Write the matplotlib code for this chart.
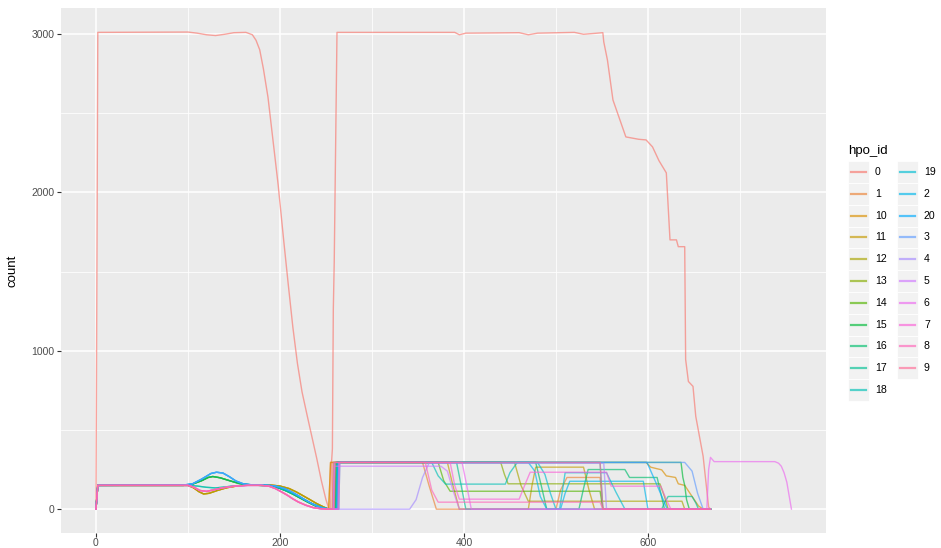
import numpy as np
import matplotlib
matplotlib.use("Agg")
import matplotlib.pyplot as plt
from matplotlib.patches import Rectangle
from matplotlib.lines import Line2D

plt.rcParams['font.family'] = ['Liberation Sans', 'DejaVu Sans']

# ---------------------------------------------------------------- data
hpo_ids = ["0", "1", "10", "11", "12", "13", "14", "15", "16", "17", "18",
           "19", "2", "20", "3", "4", "5", "6", "7", "8", "9"]

# series "0"
trace_0 = [(0, 0), (2, 3010), (100, 3012), (110, 3005), (120, 2995), (130, 2990),
           (140, 2998), (150, 3008), (163, 3010), (170, 2995), (174, 2960),
           (178, 2900), (182, 2780), (187, 2600), (192, 2350), (198, 2050),
           (204, 1700), (209, 1420), (214, 1150), (219, 920), (224, 740),
           (230, 580), (235, 450), (240, 320), (245, 180), (250, 60), (253, 5),
           (255, 0), (256, 290), (257, 380), (258, 1260), (259, 1560),
           (262, 3010), (390, 3010), (395, 2995), (402, 3005), (460, 3008),
           (470, 2995), (480, 3005), (520, 3010), (530, 2998), (545, 3005),
           (551, 3008), (552, 2950), (556, 2835), (562, 2583), (570, 2450),
           (576, 2350), (590, 2335), (598, 2331), (605, 2287), (612, 2200),
           (620, 2123), (624, 1700), (631, 1700), (633, 1657), (640, 1657),
           (641, 945), (644, 806), (649, 775), (652, 586), (660, 334),
           (666, 13), (668, 0)]

# first-phase profiles shared by groups of ids
early_blue = [(0, 0), (2, 150), (95, 152), (105, 160), (115, 190), (125, 225),
              (131, 233), (138, 228), (145, 205), (152, 178), (160, 160),
              (170, 153), (185, 152), (195, 146), (205, 130), (213, 108),
              (220, 85), (226, 63), (233, 40), (240, 20), (248, 6), (255, 0)]
early_green = [(0, 0), (2, 150), (95, 150), (105, 158), (115, 180), (122, 200),
               (127, 206), (135, 198), (145, 180), (155, 163), (165, 155),
               (178, 150), (188, 147), (198, 135), (207, 115), (215, 92),
               (222, 70), (230, 45), (238, 22), (246, 7), (254, 0)]
early_teal = [(0, 0), (2, 150), (100, 150), (110, 146), (120, 138), (130, 134),
              (140, 140), (150, 147), (160, 151), (182, 151), (192, 145),
              (202, 128), (210, 108), (218, 86), (226, 62), (235, 35),
              (245, 12), (254, 0)]
early_orange = [(0, 0), (2, 150), (100, 150), (106, 135), (112, 110), (117, 96),
                (123, 100), (132, 118), (142, 135), (155, 148), (170, 153),
                (190, 152), (200, 146), (210, 130), (218, 108), (225, 85),
                (232, 62), (240, 35), (247, 15), (253, 0)]
early_pink = [(0, 0), (2, 150), (100, 150), (106, 140), (113, 118), (120, 112),
              (128, 122), (138, 135), (150, 145), (165, 150), (180, 150),
              (188, 145), (195, 130), (202, 108), (208, 88), (214, 65),
              (220, 45), (228, 25), (236, 10), (245, 2), (252, 0)]

# second-phase traces per id
late_1 = [(255, 295), (355, 295), (362, 150), (370, 0), (500, 0), (505, 120),
          (512, 200), (548, 200), (551, 0), (668, 0)]
late_10 = [(255, 295), (598, 295), (603, 265), (610, 255), (615, 248),
           (620, 210), (630, 200), (633, 160), (640, 150), (648, 80),
           (655, 20), (660, 0), (668, 0)]
late_11 = [(257, 0), (258, 295), (382, 295), (388, 150), (395, 0), (470, 0),
           (474, 150), (478, 265), (530, 265), (536, 120), (542, 0), (668, 0)]
late_12 = [(259, 0), (260, 295), (455, 295), (462, 150), (470, 50), (637, 50),
           (640, 0), (668, 0)]
late_13 = [(260, 0), (261, 295), (440, 295), (444, 220), (448, 160), (613, 160),
           (618, 80), (622, 0), (668, 0)]
late_14 = [(262, 0), (263, 295), (372, 295), (378, 180), (385, 113), (548, 113),
           (551, 0), (668, 0)]
late_15 = [(260, 0), (261, 295), (636, 295), (638, 200), (640, 150), (642, 60),
           (645, 0), (668, 0)]
late_16 = [(261, 0), (262, 295), (478, 295), (484, 150), (490, 0), (525, 0),
           (530, 130), (535, 250), (575, 250), (580, 200), (610, 200),
           (614, 100), (618, 0), (668, 0)]
late_17 = [(263, 0), (264, 295), (392, 295), (397, 150), (402, 0), (615, 0),
           (618, 40), (622, 80), (648, 80), (652, 40), (655, 0), (668, 0)]
late_18 = [(261, 0), (262, 295), (365, 295), (372, 210), (380, 158), (445, 158),
           (450, 230), (458, 295), (548, 295), (551, 0), (668, 0)]
late_19 = [(264, 0), (265, 295), (480, 295), (488, 220), (494, 100), (500, 0),
           (504, 0), (510, 230), (555, 230), (565, 110), (575, 0), (668, 0)]
late_2 = [(262, 0), (263, 295), (470, 295), (477, 240), (483, 80), (490, 0),
          (505, 0), (510, 100), (515, 176), (595, 176), (600, 0), (668, 0)]
late_20 = [(262, 0), (263, 295), (599, 295), (610, 150), (621, 0), (668, 0)]
late_3 = [(258, 0), (259, 295), (640, 295), (648, 240), (654, 100), (660, 0),
          (668, 0)]
late_4 = [(341, 0), (348, 60), (355, 200), (362, 290), (552, 290), (555, 0),
          (668, 0)]
late_5 = [(258, 0), (259, 271), (375, 271), (382, 240), (388, 120), (395, 0),
          (668, 0)]
late_6 = [(263, 0), (264, 295), (398, 295), (403, 150), (408, 0), (664, 0),
          (666, 250), (668, 327), (672, 300), (738, 300), (742, 290),
          (745, 271), (748, 230), (751, 170), (756, 0)]
late_7 = [(264, 0), (265, 295), (385, 295), (390, 150), (395, 63), (460, 63),
          (466, 150), (472, 233), (555, 233), (560, 145), (614, 145),
          (620, 60), (625, 0), (668, 0)]
late_8 = [(259, 0), (260, 295), (358, 295), (365, 120), (372, 44), (548, 44),
          (551, 0), (668, 0)]
late_9 = [(257, 0), (258, 295), (548, 295), (551, 0), (668, 0)]

traces = {
    "0": trace_0,
    "1": early_orange + late_1, "10": early_orange + late_10,
    "11": early_orange + late_11, "12": early_orange + late_12,
    "13": early_green + late_13, "14": early_green + late_14,
    "15": early_green + late_15, "16": early_green + late_16,
    "17": early_teal + late_17, "18": early_teal + late_18,
    "19": early_blue + late_19, "2": early_blue + late_2,
    "20": early_blue + late_20, "3": early_blue + late_3,
    "4": early_pink + late_4, "5": early_pink + late_5,
    "6": early_pink + late_6, "7": early_pink + late_7,
    "8": early_pink + late_8, "9": early_pink + late_9,
}

x_ticks = [0, 200, 400, 600]
y_ticks = [0, 1000, 2000, 3000]


# ---------------------------------------------------------------- colours
def hcl_hex(h, c=100.0, l=65.0):
    """Polar CIE-LUV (D65) to an sRGB hex string."""
    xn, yn, zn = 95.047, 100.0, 108.883
    den = xn + 15 * yn + 3 * zn
    un, vn = 4 * xn / den, 9 * yn / den
    u = c * np.cos(np.radians(h))
    v = c * np.sin(np.radians(h))
    y = yn * ((l + 16) / 116) ** 3
    up = u / (13 * l) + un
    vp = v / (13 * l) + vn
    x = y * 9 * up / (4 * vp)
    z = y * (12 - 3 * up - 20 * vp) / (4 * vp)
    m = np.array([[3.2404542, -1.5371385, -0.4985314],
                  [-0.9692660, 1.8760108, 0.0415560],
                  [0.0556434, -0.2040259, 1.0572252]])
    lin = m @ (np.array([x, y, z]) / 100.0)
    rgb = np.where(lin <= 0.0031308, 12.92 * lin,
                   1.055 * np.abs(lin) ** (1 / 2.4) - 0.055)
    rgb = np.clip(rgb, 0, 1)
    return "#" + "".join(f"{int(round(ch * 255)):02X}" for ch in rgb)


n = len(hpo_ids)
hues = np.linspace(15, 375, n + 1)[:n]
palette = {k: hcl_hex(h) for k, h in zip(hpo_ids, hues)}

# ---------------------------------------------------------------- figure
W, H = 941, 548
fig = plt.figure(figsize=(W / 100, H / 100), dpi=100)
fig.patch.set_facecolor("white")

ax_l, ax_r, ax_t, ax_b = 61.2, 826.2, 8.2, 533.0
ax = fig.add_axes([ax_l / W, (H - ax_b) / H, (ax_r - ax_l) / W, (ax_b - ax_t) / H])
ax.set_facecolor("#EBEBEB")

LINE_ALPHA = 0.65
for k in hpo_ids:
    xs, ys = zip(*traces[k])
    ax.plot(xs, ys, color=palette[k], lw=1.0, alpha=LINE_ALPHA,
            solid_joinstyle="round", zorder=3)

all_x = [p[0] for t in traces.values() for p in t]
all_y = [p[1] for t in traces.values() for p in t]
xr = max(all_x) - min(all_x)
yr = max(all_y) - min(all_y)
ax.set_xlim(min(all_x) - 0.05 * xr, max(all_x) + 0.05 * xr)
ax.set_ylim(min(all_y) - 0.05 * yr, max(all_y) + 0.05 * yr)

ax.set_xticks(x_ticks)
ax.set_yticks(y_ticks)
ax.set_xticklabels([str(v) for v in x_ticks])
ax.set_yticklabels([str(v) for v in y_ticks])
ax.set_xticks([100, 300, 500, 700], minor=True)
ax.set_yticks([500, 1500, 2500], minor=True)
ax.grid(which="major", color="white", lw=1.1, zorder=1)
ax.grid(which="minor", color="white", lw=0.55, zorder=1)
ax.set_axisbelow(True)
for s in ax.spines.values():
    s.set_visible(False)
ax.tick_params(which="major", length=2.75, width=0.8, color="#333333",
               labelcolor="#4D4D4D", labelsize=7.5, pad=2)
ax.tick_params(axis="x", which="major", pad=0.8)
ax.tick_params(which="minor", length=0)

ax.set_ylabel("count", fontsize=9.5, color="black")
ax.yaxis.set_label_coords((18 - ax_l) / (ax_r - ax_l), 0.5)

# ---------------------------------------------------------------- legend
lg = fig.add_axes([0, 0, 1, 1], facecolor="none")
lg.set_xlim(0, W)
lg.set_ylim(H, 0)
lg.axis("off")

lg.text(848, 151, "hpo_id", fontsize=9.5, color="black", va="center", ha="left")
row0, step = 172.0, 21.8
col_key_x = [848, 897]
col_lab_x = [875, 924]
key_w, key_h = 21, 21.8
per_col = 11
for i, k in enumerate(hpo_ids):
    c, r = divmod(i, per_col)
    cy = row0 + r * step
    kx = col_key_x[c]
    lg.add_patch(Rectangle((kx, cy - key_h / 2), key_w, key_h,
                           facecolor="#F2F2F2", edgecolor="white", lw=0.6))
    lg.add_line(Line2D([kx + 3, kx + key_w - 3], [cy, cy], color=palette[k],
                       lw=1.6, alpha=LINE_ALPHA))
    lg.text(col_lab_x[c], cy, k, fontsize=7.6, color="black",
            va="center", ha="left")

fig.savefig("out.png", dpi=100)
